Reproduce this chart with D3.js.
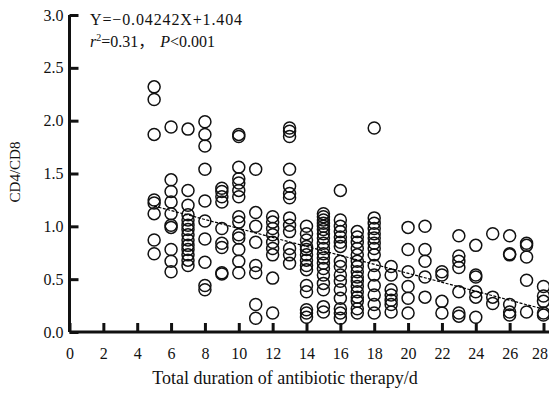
<!DOCTYPE html>
<html>
<head>
<meta charset="utf-8">
<script src="https://cdn.jsdelivr.net/npm/d3@7"></script>
<style>
  html, body { margin: 0; padding: 0; background: #fff; }
  svg text { font-family: "Liberation Serif", "Times New Roman", serif; fill: #111; }
</style>
</head>
<body>
<div id="chart"></div>
<script>
// treatment days and the CD4/CD8 ratios read at each day
const days = [5, 6, 7, 8, 9, 10, 11, 12, 13, 14, 15, 16, 17, 18, 19, 20, 21, 22, 23, 24, 25, 26, 27, 28];
const ratioByDay = [
  [2.32, 2.20, 1.87, 1.25, 1.22, 1.12, 0.87, 0.74],
  [1.94, 1.44, 1.33, 1.23, 1.12, 1.01, 0.99, 0.78, 0.67, 0.57],
  [1.92, 1.34, 1.20, 1.11, 1.06, 1.01, 0.97, 0.92, 0.87, 0.82, 0.78, 0.73, 0.68, 0.63],
  [1.99, 1.87, 1.76, 1.54, 1.24, 1.05, 0.88, 0.66, 0.44, 0.40],
  [1.36, 1.33, 1.28, 1.23, 0.98, 0.84, 0.80, 0.56, 0.55],
  [1.87, 1.85, 1.56, 1.45, 1.41, 1.34, 1.28, 1.09, 1.04, 0.92, 0.89, 0.78, 0.67, 0.56],
  [1.54, 1.13, 1.00, 0.85, 0.63, 0.56, 0.26, 0.13],
  [1.09, 1.04, 0.98, 0.92, 0.85, 0.79, 0.73, 0.51, 0.18],
  [1.93, 1.90, 1.85, 1.54, 1.38, 1.31, 1.27, 1.08, 1.01, 0.95, 0.79, 0.73, 0.65],
  [1.00, 0.93, 0.87, 0.81, 0.78, 0.73, 0.68, 0.63, 0.59, 0.44, 0.38, 0.21, 0.18, 0.14],
  [1.12, 1.09, 1.06, 1.03, 1.00, 0.97, 0.93, 0.89, 0.84, 0.79, 0.74, 0.70, 0.65, 0.60, 0.54, 0.46, 0.40, 0.24, 0.19],
  [1.34, 1.06, 1.00, 0.95, 0.90, 0.85, 0.81, 0.67, 0.62, 0.54, 0.48, 0.40, 0.32, 0.22, 0.18, 0.13],
  [0.95, 0.90, 0.85, 0.79, 0.73, 0.67, 0.62, 0.57, 0.52, 0.48, 0.43, 0.38, 0.33, 0.29, 0.22, 0.18],
  [1.93, 1.08, 1.03, 0.98, 0.93, 0.89, 0.84, 0.79, 0.73, 0.63, 0.54, 0.44, 0.35, 0.26, 0.18],
  [0.62, 0.54, 0.40, 0.35, 0.30, 0.26, 0.19],
  [0.99, 0.78, 0.57, 0.43, 0.32, 0.18],
  [1.00, 0.78, 0.67, 0.52, 0.33],
  [0.57, 0.54, 0.29, 0.18],
  [0.91, 0.72, 0.67, 0.61, 0.38, 0.18, 0.15],
  [0.82, 0.54, 0.52, 0.38, 0.33, 0.14],
  [0.93, 0.33, 0.27],
  [0.91, 0.74, 0.73, 0.26, 0.19, 0.16],
  [0.84, 0.82, 0.71, 0.49, 0.19],
  [0.43, 0.34, 0.29, 0.18, 0.16]
];
const xTicks = [0, 2, 4, 6, 8, 10, 12, 14, 16, 18, 20, 22, 24, 26, 28];
const yTicks = [0, 0.5, 1.0, 1.5, 2.0, 2.5, 3.0];
const fitSlope = -0.04242;
const fitIntercept = 1.404;
const fitRange = [5, 28];

const width = 549, height = 396;
const svg = d3.select('#chart').append('svg')
  .attr('width', width)
  .attr('height', height);

const x = d3.scaleLinear().domain([0, 28]).range([69.5, 543.5]);
const y = d3.scaleLinear().domain([0, 3]).range([332, 15]);

const points = days.flatMap((d, i) => ratioByDay[i].map(v => ({ day: d, ratio: v })));

// circles
svg.append('g')
  .selectAll('circle')
  .data(points)
  .enter()
  .append('circle')
    .attr('cx', d => x(d.day))
    .attr('cy', d => y(d.ratio))
    .attr('r', 6)
    .attr('fill', 'none')
    .attr('stroke', '#111')
    .attr('stroke-width', 1.5);

// regression line
svg.append('line')
  .attr('x1', x(fitRange[0]))
  .attr('y1', y(fitSlope * fitRange[0] + fitIntercept))
  .attr('x2', x(fitRange[1]))
  .attr('y2', y(fitSlope * fitRange[1] + fitIntercept))
  .attr('stroke', '#000')
  .attr('stroke-width', 1.2)
  .attr('stroke-dasharray', '3,1.5');

// axes, ticks pointing inward
const xAxis = svg.append('g')
  .attr('transform', `translate(0,${y(0)})`)
  .call(d3.axisBottom(x).tickValues(xTicks).tickSize(-9).tickPadding(16).tickFormat(d3.format('d')));
xAxis.select('.domain').attr('d', `M${x(0)},0H${width}`);
// last label sits against the right edge
xAxis.selectAll('.tick text').filter(d => d === 28).attr('dx', -4);

const yAxis = svg.append('g')
  .attr('transform', `translate(${x(0)},0)`)
  .call(d3.axisLeft(y).tickValues(yTicks).tickSize(-9).tickPadding(6).tickFormat(d3.format('.1f')));
yAxis.select('.domain').attr('d', `M0,${y(3)}V${y(0)}`);

svg.selectAll('.domain').attr('stroke', '#111').attr('stroke-width', 3);
svg.selectAll('.tick line').attr('stroke', '#111').attr('stroke-width', 3);
svg.selectAll('.tick text')
  .attr('font-family', '"Liberation Serif", serif')
  .attr('font-size', 16)
  .attr('fill', '#111');

// axis titles
svg.append('text')
  .attr('x', 285)
  .attr('y', 384)
  .attr('text-anchor', 'middle')
  .attr('font-size', 18)
  .text('Total duration of antibiotic therapy/d');

svg.append('text')
  .attr('transform', 'translate(20,172) rotate(-90)')
  .attr('text-anchor', 'middle')
  .attr('font-size', 15)
  .text('CD4/CD8');

// fit annotation
svg.append('text')
  .attr('x', 90)
  .attr('y', 25)
  .attr('font-size', 16)
  .attr('textLength', 152)
  .attr('lengthAdjust', 'spacing')
  .text('Y=\u22120.04242X+1.404');

const stat = svg.append('text')
  .attr('x', 90)
  .attr('y', 47)
  .attr('font-size', 16);
stat.append('tspan').attr('font-style', 'italic').text('r');
stat.append('tspan').attr('dy', -6).attr('font-size', 10).text('2');
stat.append('tspan').attr('dy', 6).text('=0.31');
stat.append('tspan').attr('font-family', '"Noto Sans CJK SC", sans-serif').text('\uFF0C');
stat.append('tspan').attr('dx', 6).attr('font-style', 'italic').text('P');
stat.append('tspan').text('<0.001');
</script>
</body>
</html>
